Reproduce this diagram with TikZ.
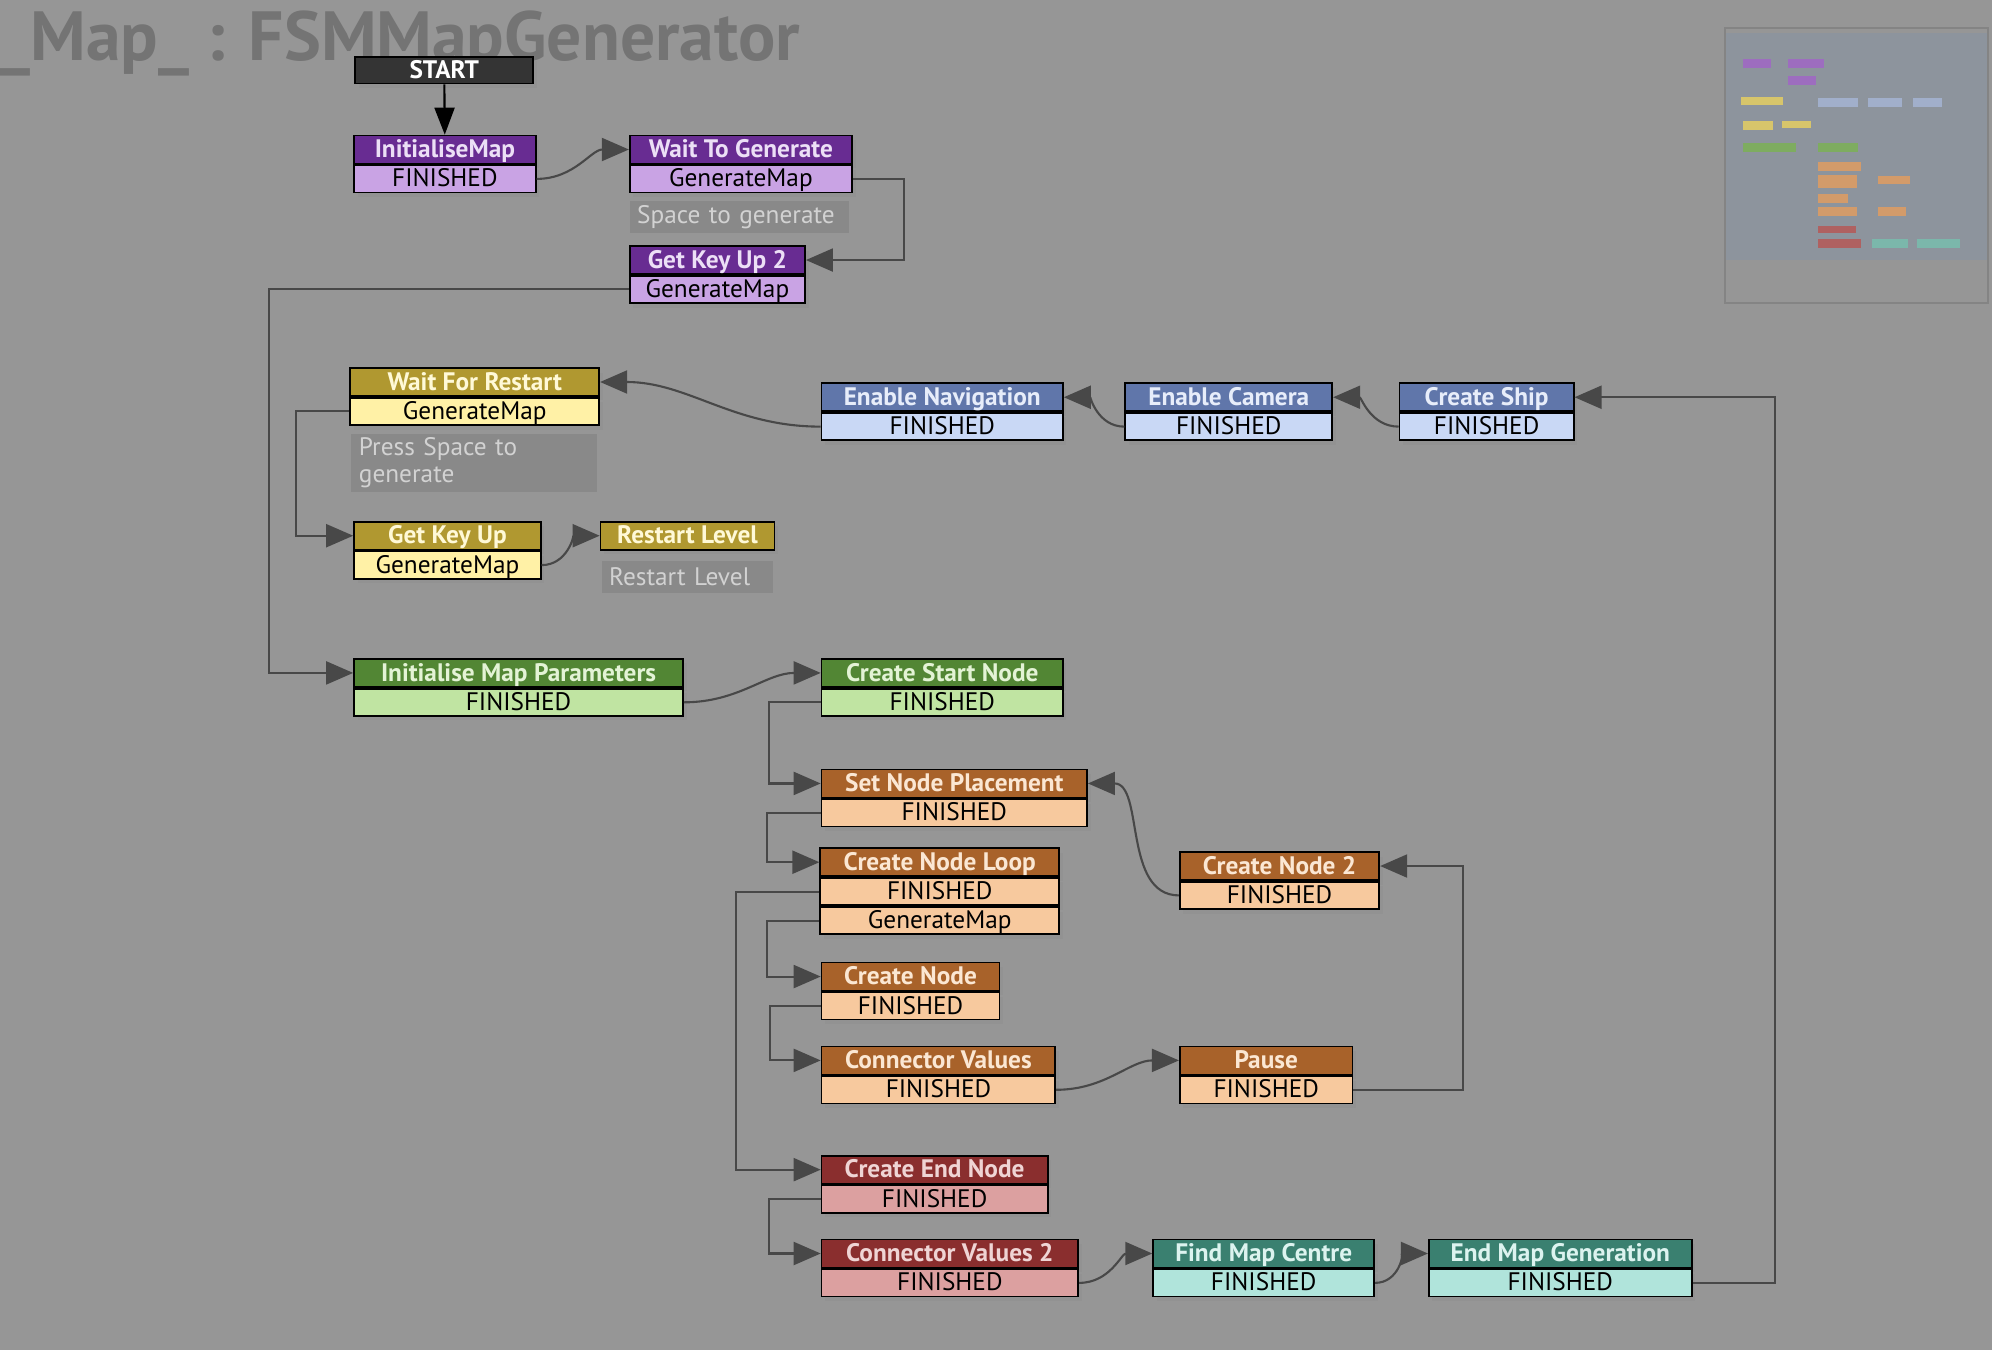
\documentclass[tikz,border=0pt]{standalone}
\usepackage{fontspec}
\newfontfamily\uifont{PT Sans}
\usetikzlibrary{positioning,arrows.meta,shadows}

% one pixel of the 1568 px wide screen
\newcommand{\pxu}{0.12704mm}

\definecolor{bgcol}{RGB}{150,150,150}
\definecolor{headcol}{RGB}{116,116,116}
\definecolor{linkcol}{RGB}{72,72,72}
\definecolor{cmtfill}{RGB}{137,137,137}
\definecolor{cmttext}{RGB}{210,210,210}
\definecolor{startfill}{RGB}{52,52,52}
\definecolor{purD}{RGB}{104,44,146}
\definecolor{purL}{RGB}{201,163,228}
\definecolor{yelD}{RGB}{176,152,48}
\definecolor{yelL}{RGB}{255,241,166}
\definecolor{bluD}{RGB}{96,118,170}
\definecolor{bluL}{RGB}{201,216,245}
\definecolor{grnD}{RGB}{82,134,52}
\definecolor{grnL}{RGB}{192,228,162}
\definecolor{orgD}{RGB}{168,98,42}
\definecolor{orgL}{RGB}{247,201,158}
\definecolor{redD}{RGB}{138,46,46}
\definecolor{redL}{RGB}{220,160,160}
\definecolor{tealD}{RGB}{58,128,112}
\definecolor{tealL}{RGB}{176,228,219}
\definecolor{mapbg}{RGB}{141,148,157}
\definecolor{mapline}{RGB}{132,132,132}

\tikzset{
  box/.style={draw=black, line width=0.5pt, inner sep=0pt,
    text height=5.2pt, text depth=0.6pt,
    font=\uifont\fontsize{7.2}{8}\selectfont,
    drop shadow={opacity=0.18, shadow xshift=0.35mm, shadow yshift=-0.45mm}},
  statehead/.style 2 args={box, fill=#1, text=#2, minimum height=22*\pxu, anchor=north west,
    font=\uifont\bfseries\fontsize{7.2}{8}\selectfont},
  statebody/.style={box, fill=#1, text=black, minimum height=21.5*\pxu},
  boxw/.style={minimum width=#1*\pxu},
  purhead/.style={statehead={purD}{purL!35!white}},
  purbody/.style={statebody=purL},
  yelhead/.style={statehead={yelD}{yelL!45!white}},
  yelbody/.style={statebody=yelL},
  bluhead/.style={statehead={bluD}{bluL!45!white}},
  blubody/.style={statebody=bluL},
  grnhead/.style={statehead={grnD}{grnL!45!white}},
  grnbody/.style={statebody=grnL},
  orghead/.style={statehead={orgD}{orgL!45!white}},
  orgbody/.style={statebody=orgL},
  redhead/.style={statehead={redD}{redL!45!white}},
  redbody/.style={statebody=redL},
  tealhead/.style={statehead={tealD}{tealL!45!white}},
  tealbody/.style={statebody=tealL},
  comment/.style={fill=cmtfill, text=cmttext, anchor=north west, inner xsep=6*\pxu,
    inner ysep=0pt, align=left, font=\uifont\fontsize{7.2}{7.7}\selectfont},
  link/.style={draw=linkcol, line width=0.6pt, -{Triangle[length=2.7mm,width=2.3mm]}},
}

\begin{document}
\begin{tikzpicture}[x=0.12704mm, y=-0.12704mm]

% background and frame
\fill[bgcol] (0,0) rectangle (1568,1063);
\useasboundingbox (0,0) rectangle (1568,1063);

% FSM title
\node[anchor=base west, inner sep=0pt, text=headcol, font=\uifont\bfseries\fontsize{19.8}{22}\selectfont] (fsmtitle) at (-1,48) {\_Map\_ : FSMMapGenerator};

% ---- start
\node[box, fill=startfill, text=white, boxw=140, minimum height=21*\pxu, anchor=north west,
  font=\uifont\bfseries\fontsize{7.2}{8}\selectfont] (start) at (279,44) {START};

% ---- purple states
\node[purhead, boxw=143] (imT) at (278,106) {InitialiseMap};
\node[purbody, boxw=143, below=0pt of imT] (imF) {FINISHED};

\node[purhead, boxw=175] (wtgT) at (495,106) {Wait To Generate};
\node[purbody, boxw=175, below=0pt of wtgT] (wtgG) {GenerateMap};
\node[comment, text width=20.46mm, minimum height=25*\pxu] (wtgC) at (495,158) {Space to generate};

\node[purhead, boxw=138] (gku2T) at (495,193) {Get Key Up 2};
\node[purbody, boxw=138, below=0pt of gku2T] (gku2G) {GenerateMap};

% ---- yellow states
\node[yelhead, boxw=196] (wfrT) at (275,289) {Wait For Restart};
\node[yelbody, boxw=196, below=0pt of wfrT] (wfrG) {GenerateMap};
\node[comment, text width=23mm, minimum height=46*\pxu] (wfrC) at (276,341) {Press Space to\\generate};

\node[yelhead, boxw=147] (gkuT) at (278,410) {Get Key Up};
\node[yelbody, boxw=147, below=0pt of gkuT] (gkuG) {GenerateMap};

\node[yelhead, boxw=137] (rlT) at (472,410) {Restart Level};
\node[comment, text width=15.6mm, minimum height=25*\pxu] (rlC) at (473,441) {Restart Level};

% ---- blue states
\node[bluhead, boxw=190] (enT) at (646,301) {Enable Navigation};
\node[blubody, boxw=190, below=0pt of enT] (enF) {FINISHED};

\node[bluhead, boxw=163] (ecT) at (885,301) {Enable Camera};
\node[blubody, boxw=163, below=0pt of ecT] (ecF) {FINISHED};

\node[bluhead, boxw=137] (csT) at (1101,301) {Create Ship};
\node[blubody, boxw=137, below=0pt of csT] (csF) {FINISHED};

% ---- green states
\node[grnhead, boxw=259] (impT) at (278,518) {Initialise Map Parameters};
\node[grnbody, boxw=259, below=0pt of impT] (impF) {FINISHED};

\node[grnhead, boxw=190] (csnT) at (646,518) {Create Start Node};
\node[grnbody, boxw=190, below=0pt of csnT] (csnF) {FINISHED};

% ---- orange states
\node[orghead, boxw=209] (snpT) at (646,605) {Set Node Placement};
\node[orgbody, boxw=209, below=0pt of snpT] (snpF) {FINISHED};

\node[orghead, boxw=188] (cnlT) at (645,667) {Create Node Loop};
\node[orgbody, boxw=188, below=0pt of cnlT] (cnlF) {FINISHED};
\node[orgbody, boxw=188, below=0pt of cnlF] (cnlG) {GenerateMap};

\node[orghead, boxw=157] (cn2T) at (928,670) {Create Node 2};
\node[orgbody, boxw=157, below=0pt of cn2T] (cn2F) {FINISHED};

\node[orghead, boxw=140] (cnT) at (646,757) {Create Node};
\node[orgbody, boxw=140, below=0pt of cnT] (cnF) {FINISHED};

\node[orghead, boxw=184] (cvT) at (646,823) {Connector Values};
\node[orgbody, boxw=184, below=0pt of cvT] (cvF) {FINISHED};

\node[orghead, boxw=136] (pT) at (928,823) {Pause};
\node[orgbody, boxw=136, below=0pt of pT] (pF) {FINISHED};

% ---- red states
\node[redhead, boxw=178] (cenT) at (646,909) {Create End Node};
\node[redbody, boxw=178, below=0pt of cenT] (cenF) {FINISHED};

\node[redhead, boxw=202] (cv2T) at (646,975) {Connector Values 2};
\node[redbody, boxw=202, below=0pt of cv2T] (cv2F) {FINISHED};

% ---- teal states
\node[tealhead, boxw=174] (fmcT) at (907,975) {Find Map Centre};
\node[tealbody, boxw=174, below=0pt of fmcT] (fmcF) {FINISHED};

\node[tealhead, boxw=207] (emgT) at (1124,975) {End Map Generation};
\node[tealbody, boxw=207, below=0pt of emgT] (emgF) {FINISHED};

% ---- transitions
\draw[line width=0.6pt, -{Triangle[length=2.7mm,width=2mm]}] (start) -- (imT);
\draw[link] (imF.east) to[out=0,in=180] (wtgT.west);
\draw[link] (wtgG.east) -- ++(40,0) |- (gku2T.east);
\draw[link] (gku2G.west) -- ++(-283,0) |- (impT.west);
\draw[link] (impF.east) to[out=0,in=180] (csnT.west);
\draw[link] (csnF.west) -- ++(-41,0) |- (snpT.west);
\draw[link] (snpF.west) -- ++(-42,0) |- (cnlT.west);
\draw[link] (cnlF.west) -- ++(-66,0) |- (cenT.west);
\draw[link] (cnlG.west) -- ++(-41,0) |- (cnT.west);
\draw[link] (cnF.west) -- ++(-40,0) |- (cvT.west);
\draw[link] (cvF.east) to[out=0,in=180] (pT.west);
\draw[link] (pF.east) -- ++(86,0) |- (cn2T.east);
\draw[link] (cn2F.west) to[out=180,in=0] (snpT.east);
\draw[link] (cenF.west) -- ++(-41,0) |- (cv2T.west);
\draw[link] (cv2F.east) to[out=0,in=180] (fmcT.west);
\draw[link] (fmcF.east) to[out=0,in=180] (emgT.west);
\draw[link] (emgF.east) -- ++(65,0) |- (csT.east);
\draw[link] (csF.west) to[out=180,in=0] (ecT.east);
\draw[link] (ecF.west) to[out=180,in=0] (enT.east);
\draw[link] (enF.west) to[out=180,in=0] (wfrT.east);
\draw[link] (wfrG.west) -- ++(-42,0) |- (gkuT.west);
\draw[link] (gkuG.east) to[out=0,in=180] (rlT.west);

% ---- overview map (full size pixels)
\begin{scope}[x=0.1mm, y=-0.1mm]
    \fill[mapbg] (1726,33) rectangle (1987,260);
    \draw[mapline, line width=0.8pt] (1725,28) rectangle (1988,303);
    \fill[purD!45!purL] (1743,59) rectangle (1771,68);
    \fill[purD!45!purL] (1788,59) rectangle (1824,68);
    \fill[purD!45!purL] (1788,76) rectangle (1816,85);
    \fill[yelD!50!yelL] (1741,97) rectangle (1783,105);
    \fill[bluD!30!bluL!80!gray] (1818,98) rectangle (1858,107);
    \fill[bluD!30!bluL!80!gray] (1868,98) rectangle (1902,107);
    \fill[bluD!30!bluL!80!gray] (1913,98) rectangle (1942,107);
    \fill[yelD!50!yelL] (1743,121) rectangle (1773,130);
    \fill[yelD!50!yelL] (1782,121) rectangle (1811,128);
    \fill[grnD!60!grnL] (1743,143) rectangle (1796,152);
    \fill[grnD!60!grnL] (1818,143) rectangle (1858,152);
    \fill[orgD!45!orgL] (1818,162) rectangle (1861,171);
    \fill[orgD!45!orgL] (1818,175) rectangle (1857,188);
    \fill[orgD!45!orgL] (1878,176) rectangle (1910,184);
    \fill[orgD!45!orgL] (1818,194) rectangle (1848,203);
    \fill[orgD!45!orgL] (1818,207) rectangle (1857,216);
    \fill[orgD!45!orgL] (1878,207) rectangle (1906,216);
    \fill[redD!55!redL] (1818,226) rectangle (1856,233);
    \fill[redD!55!redL] (1818,239) rectangle (1861,248);
    \fill[tealD!45!tealL] (1872,239) rectangle (1908,248);
    \fill[tealD!45!tealL] (1917,239) rectangle (1960,248);
\end{scope}

\end{tikzpicture}
\end{document}
